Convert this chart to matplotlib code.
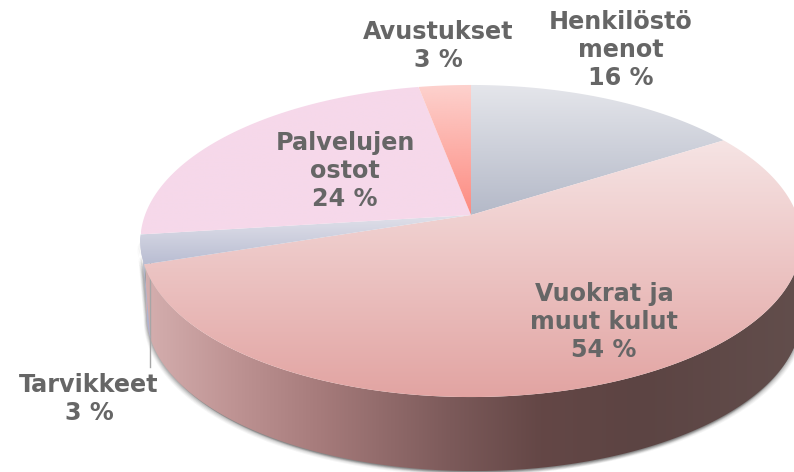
import numpy as np
import matplotlib
matplotlib.use("Agg")
import matplotlib.pyplot as plt
from matplotlib.patches import Polygon
from matplotlib.colors import LinearSegmentedColormap as LSC

categories = ["Henkilöstö\nmenot", "Vuokrat ja\nmuut kulut", "Tarvikkeet", "Palvelujen\nostot", "Avustukset"]
shares = [16, 54, 3, 24, 3]

# styles
top_cols = [("#e5e6eb", "#b4b9c8"), ("#f6e4e4", "#e2a4a2"), ("#e1e1ea", "#b9bdd2"),
            ("#f6d9ea", "#f6d8ea"), ("#fdd2ce", "#fd8a80")]
side_cols = [None, None, ("#b4b8d0", "#aeb2cc"), None, None]
label_xy = [(621, 50), (604, 322), (89, 399), (345, 171), (438, 46)]
side_stops = [(146, "#d4aeae"), (230, "#bf9494"), (320, "#a67b7b"), (450, "#7c5a5a"),
              (540, "#644746"), (640, "#5c4443"), (802, "#624e4c")]

W, H = 794, 472
CX, CY, X, B, A = 471, 215, 326, 151.7, 0.1667
DEPTH = 74

fig = plt.figure(figsize=(W / 100, H / 100), dpi=100)
ax = fig.add_axes([0, 0, 1, 1])
ax.set_xlim(0, W)
ax.set_ylim(H, 0)
ax.axis("off")


def rim(theta, base=False):
    u, v = np.sin(theta), np.cos(theta)
    d = 1 + A * v
    x = CX + X * u / d
    y = CY - B * v / d
    if base:
        x = CX + (x - CX) * 0.99 + 3
        y = y + DEPTH
    return np.column_stack([x, y])


def grad(poly, cols, horizontal=False, stops=None, z=1):
    x0, y0 = poly.min(axis=0)
    x1, y1 = poly.max(axis=0)
    if y1 - y0 < 1e-6 or x1 - x0 < 1e-6:
        return
    if stops:
        cm = LSC.from_list("g", [((s - stops[0][0]) / (stops[-1][0] - stops[0][0]), c) for s, c in stops])
        x0, x1 = stops[0][0], stops[-1][0]
    else:
        cm = LSC.from_list("g", list(cols))
    g = np.linspace(0, 1, 256)
    g = g[None, :] if horizontal else g[:, None]
    im = ax.imshow(g, cmap=cm, extent=(x0, x1, y1, y0), aspect="auto", zorder=z,
                   interpolation="bilinear", vmin=0, vmax=1)
    p = Polygon(poly, closed=True, transform=ax.transData, fc="none", ec="none")
    ax.add_patch(p)
    im.set_clip_path(p)


full = np.linspace(0, 2 * np.pi, 721)
t_rim, b_rim = rim(full), rim(full, True)
# silhouette of the extruded body, front half
i_l, i_r = t_rim[:, 0].argmin(), t_rim[:, 0].argmax()
front = np.linspace(full[i_r], full[i_l], 400)
body = np.vstack([rim(front), rim(front[::-1], True)])

# soft shadow
for k, a in [(5, .06), (4, .08), (3, .10), (2, .14), (1, .18)]:
    sh = body + np.array([-0.6 * k, k * 0.9])
    ax.add_patch(Polygon(sh, closed=True, fc="#555555", ec="none", alpha=a, zorder=0.5))
    sh = body + np.array([0.8 * k, k * 0.7])
    ax.add_patch(Polygon(sh, closed=True, fc="#555555", ec="none", alpha=a, zorder=0.5))

grad(body, None, True, side_stops, z=1)

bounds = np.cumsum([0] + shares) / sum(shares) * 2 * np.pi
for i, (s, e) in enumerate(zip(bounds[:-1], bounds[1:])):
    th = np.linspace(s, e, 200)
    if side_cols[i]:
        grad(np.vstack([rim(th), rim(th[::-1], True)]), side_cols[i], z=1.5)

ax.plot([150, 150], [262, 367], color="#a6a6a6", lw=1, zorder=1.2)

for i, (s, e) in enumerate(zip(bounds[:-1], bounds[1:])):
    th = np.linspace(s, e, 300)
    poly = np.vstack([[CX, CY], rim(th)])
    grad(poly, top_cols[i], z=2)

for c, v, (x, y) in zip(categories, shares, label_xy):
    ax.text(x, y, f"{c}\n{v} %", ha="center", va="center", ma="center", fontsize=17.2,
            fontweight="bold", color="#666666", family="DejaVu Sans", linespacing=1.21, zorder=5)

ax.set_xlim(0, W)
ax.set_ylim(H, 0)
fig.savefig("out.png", dpi=100, facecolor="white")
